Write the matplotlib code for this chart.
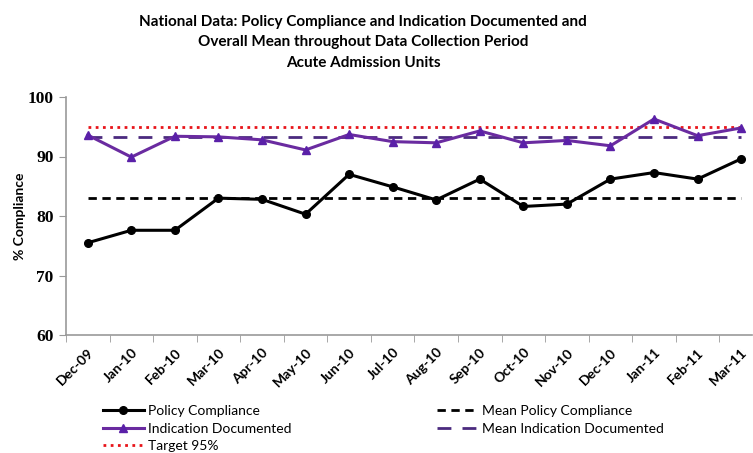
import matplotlib
matplotlib.use("Agg")
import matplotlib.pyplot as plt
from matplotlib.ticker import MultipleLocator, FixedLocator

months = ["Dec-09", "Jan-10", "Feb-10", "Mar-10", "Apr-10", "May-10", "Jun-10", "Jul-10",
          "Aug-10", "Sep-10", "Oct-10", "Nov-10", "Dec-10", "Jan-11", "Feb-11", "Mar-11"]

policy = [75.5, 77.6, 77.6, 83.0, 82.8, 80.3, 87.0, 84.9,
          82.7, 86.2, 81.6, 82.0, 86.2, 87.3, 86.2, 89.6]

indication = [93.6, 89.9, 93.4, 93.3, 92.8, 91.1, 93.7, 92.5,
              92.3, 94.3, 92.3, 92.7, 91.8, 96.3, 93.5, 94.8]

mean_policy = 83.1
mean_indication = 93.2
target = 95

x = list(range(len(months)))

fig = plt.figure(figsize=(7.53, 4.53), dpi=100)
ax = fig.add_axes([66 / 753, 1 - 335 / 453, 686 / 753, 238 / 453])

# target and means
ax.plot(x, [target] * len(x), color="#e8141a", linestyle=(0, (1, 1.6)), linewidth=2,
        label="Target 95%", zorder=2)
ax.plot(x, [mean_policy] * len(x), color="black", linestyle=(0, (3, 2)), linewidth=2,
        label="Mean Policy Compliance", zorder=2)
ax.plot(x, [mean_indication] * len(x), color="#4b2a7f", linestyle=(0, (5, 4)), linewidth=2,
        label="Mean Indication Documented", zorder=2)

ax.plot(x, policy, color="black", marker="o", markersize=5.5, linewidth=2.2,
        label="Policy Compliance", zorder=4)
ax.plot(x, indication, color="#6a2ba0", marker="^", markersize=6, linewidth=2.2,
        markerfacecolor="#5a20a8", markeredgecolor="#5a20a8",
        label="Indication Documented", zorder=3)

ax.set_ylim(60, 100)
ax.set_xlim(-0.5, 15.25)
ax.yaxis.set_major_locator(MultipleLocator(10))

ax.set_xticks(x)
ax.set_xticklabels(months, rotation=45, ha="right", rotation_mode="anchor",
                   fontsize=10, fontweight="bold", family="Lato")
ax.xaxis.set_minor_locator(FixedLocator([i - 0.5 for i in range(16)]))
ax.tick_params(axis="x", which="major", length=0, pad=8)
ax.tick_params(axis="x", which="minor", length=5, color="#999999", direction="out")
ax.tick_params(axis="y", length=5, color="#999999", direction="out", pad=4)
for lbl in ax.get_yticklabels():
    lbl.set_family("Liberation Serif")
    lbl.set_fontweight("bold")
    lbl.set_fontsize(12.5)

for side in ["top", "right"]:
    ax.spines[side].set_visible(False)
for side in ["left", "bottom"]:
    ax.spines[side].set_color("#999999")
    ax.spines[side].set_linewidth(1.2)

ax.set_ylabel("% Compliance", fontsize=10, fontweight="bold", family="Lato", labelpad=1)

fig.text(0.482, 0.967, "National Data: Policy Compliance and Indication Documented and\n"
         "Overall Mean throughout Data Collection Period\nAcute Admission Units",
         ha="center", va="top", fontsize=11, fontweight="bold", family="Lato",
         linespacing=1.58)

handles, labels = ax.get_legend_handles_labels()
order = [3, 4, 0, 1, 2]
handles = [handles[i] for i in order]
labels = [labels[i] for i in order]
fig.legend(handles, labels, ncol=2, loc="upper left", bbox_to_anchor=(0.127, 0.122),
           frameon=False, prop={"family": "Lato", "size": 10}, handlelength=2.95,
           handletextpad=0.3, columnspacing=10.5, labelspacing=0.42, borderpad=0)

fig.savefig("out.png", dpi=100)
